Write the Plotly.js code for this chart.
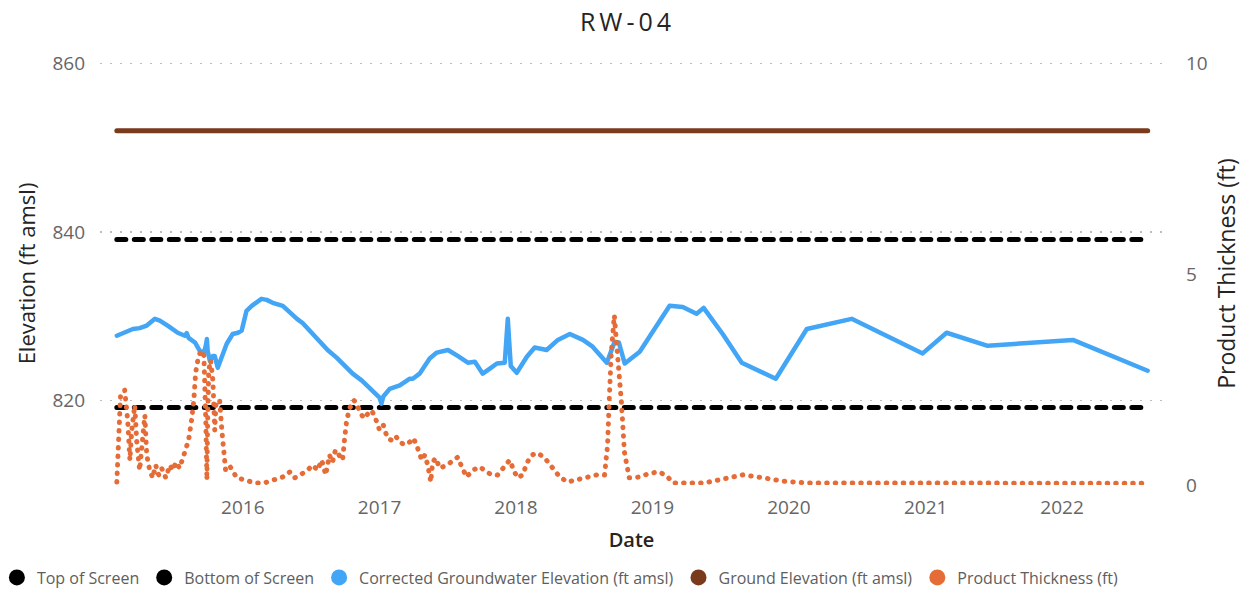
<!DOCTYPE html>
<html>
<head>
<meta charset="utf-8">
<script src="https://cdn.plot.ly/plotly-3.0.1.min.js"></script>
<style>html,body{margin:0;padding:0;background:#fff;}#chart{width:1255px;height:593px;}</style>
</head>
<body>
<div id="chart"></div>
<script>
// ---- Data ----
const gwDates = ["2015-01-29","2015-02-11","2015-02-27","2015-03-13","2015-03-31","2015-04-19","2015-05-11","2015-05-24","2015-06-14","2015-07-11","2015-07-30","2015-08-04","2015-08-09","2015-08-26","2015-09-08","2015-09-19","2015-09-24","2015-09-27","2015-09-29","2015-10-05","2015-10-13","2015-10-18","2015-10-26","2015-11-06","2015-11-19","2015-12-05","2015-12-19","2015-12-29","2016-01-11","2016-01-25","2016-02-07","2016-02-20","2016-03-05","2016-03-21","2016-04-17","2016-05-06","2016-05-25","2016-06-09","2016-06-28","2016-07-25","2016-08-15","2016-09-08","2016-09-29","2016-10-21","2016-11-14","2016-12-05","2016-12-21","2017-01-01","2017-01-06","2017-01-11","2017-01-28","2017-02-24","2017-03-23","2017-03-31","2017-04-18","2017-04-26","2017-05-15","2017-06-03","2017-07-03","2017-07-29","2017-08-25","2017-09-13","2017-10-04","2017-10-23","2017-11-11","2017-12-02","2017-12-10","2017-12-18","2018-01-03","2018-01-30","2018-02-20","2018-03-24","2018-04-23","2018-05-25","2018-06-29","2018-07-25","2018-09-01","2018-09-22","2018-10-03","2018-10-19","2018-11-28","2019-02-16","2019-03-23","2019-04-29","2019-05-18","2019-07-08","2019-08-28","2019-11-27","2020-02-18","2020-06-17","2020-12-24","2021-02-26","2021-06-16","2022-01-30","2022-08-18"];
const gwElev = [827.7,827.9,828.2,828.5,828.6,828.9,829.7,829.5,828.9,828.05,827.7,828.0,827.45,826.9,825.9,825.7,826.5,827.3,825.9,824.7,825.3,825.3,823.9,825.2,826.75,827.9,828.05,828.3,830.65,831.24,831.6,832.07,831.95,831.6,831.24,830.4,829.7,829.2,828.3,826.9,826.0,825.1,824.1,823.2,822.4,821.5,820.8,820.35,819.65,820.5,821.4,821.8,822.6,822.6,823.2,823.8,825.0,825.7,826.0,825.3,824.5,824.6,823.2,823.8,824.4,824.5,829.7,824.1,823.3,825.2,826.3,826.0,827.2,827.9,827.2,826.4,824.5,827.0,826.9,824.4,825.8,831.24,831.1,830.3,831.0,827.9,824.5,822.6,828.5,829.7,825.6,828.05,826.5,827.2,823.55];

const ptDates = ["2015-01-29","2015-02-08","2015-02-19","2015-02-27","2015-03-05","2015-03-10","2015-03-18","2015-03-23","2015-03-31","2015-04-08","2015-04-14","2015-04-19","2015-04-27","2015-05-05","2015-05-13","2015-05-21","2015-05-29","2015-06-09","2015-06-20","2015-06-28","2015-07-06","2015-07-16","2015-07-24","2015-08-01","2015-08-09","2015-08-17","2015-08-23","2015-08-28","2015-09-05","2015-09-13","2015-09-19","2015-09-24","2015-09-27","2015-09-29","2015-10-02","2015-10-07","2015-10-13","2015-10-18","2015-10-21","2015-10-26","2015-10-31","2015-11-06","2015-11-11","2015-11-16","2015-11-27","2015-12-05","2015-12-16","2016-01-06","2016-02-02","2016-02-28","2016-03-26","2016-04-17","2016-05-06","2016-05-19","2016-06-06","2016-06-22","2016-07-06","2016-07-19","2016-07-30","2016-08-10","2016-08-20","2016-08-28","2016-09-05","2016-09-16","2016-09-24","2016-09-29","2016-10-05","2016-10-13","2016-10-24","2016-10-29","2016-11-09","2016-11-19","2016-11-30","2016-12-11","2016-12-21","2017-01-01","2017-01-11","2017-01-22","2017-02-02","2017-02-13","2017-02-24","2017-03-09","2017-03-23","2017-04-02","2017-04-13","2017-04-24","2017-05-02","2017-05-10","2017-05-18","2017-05-23","2017-05-31","2017-06-11","2017-06-30","2017-07-13","2017-07-29","2017-08-09","2017-08-22","2017-09-07","2017-09-26","2017-10-15","2017-10-28","2017-11-13","2017-12-02","2017-12-15","2017-12-28","2018-01-05","2018-01-19","2018-01-30","2018-02-12","2018-02-28","2018-03-19","2018-04-07","2018-04-28","2018-05-19","2018-06-15","2018-07-09","2018-08-05","2018-08-26","2018-09-03","2018-09-08","2018-09-13","2018-09-21","2018-09-29","2018-10-10","2018-10-18","2018-10-31","2018-11-28","2018-12-25","2019-01-20","2019-02-11","2019-02-24","2019-04-11","2019-05-21","2019-07-08","2019-08-31","2019-10-24","2019-12-17","2020-02-18","2020-06-12","2021-02-21","2021-09-15","2022-08-18"];
const ptThick = [0.07,2.13,2.25,1.54,0.59,1.30,1.89,1.06,0.35,0.95,1.65,0.71,0.35,0.17,0.47,0.24,0.40,0.17,0.47,0.35,0.54,0.40,0.64,0.87,1.06,1.54,2.01,2.67,3.07,3.19,3.07,1.54,0.12,1.54,2.72,2.96,2.48,1.30,1.89,2.01,2.01,1.30,0.59,0.35,0.45,0.31,0.17,0.12,0.05,0.05,0.12,0.19,0.31,0.17,0.26,0.35,0.47,0.35,0.59,0.24,0.71,0.54,0.83,0.71,0.59,1.06,1.54,1.82,2.01,1.96,1.77,1.58,1.68,1.77,1.58,1.30,1.42,1.11,1.06,1.16,1.02,0.95,1.02,1.11,0.87,0.59,0.71,0.47,0.07,0.54,0.64,0.40,0.47,0.54,0.66,0.43,0.19,0.35,0.43,0.31,0.24,0.24,0.43,0.59,0.31,0.17,0.24,0.52,0.71,0.76,0.64,0.43,0.19,0.07,0.12,0.19,0.24,0.24,0.95,2.13,3.14,4.02,3.24,1.96,0.78,0.17,0.19,0.28,0.31,0.19,0.05,0.05,0.05,0.14,0.24,0.17,0.09,0.05,0.05,0.04,0.05,0.04];

const screenDates = ["2015-01-29","2022-08-18"];
const topOfScreen = [839.1, 839.1];
const bottomOfScreen = [819.2, 819.2];
const groundElev = [852.0, 852.0];

const yearTickVals = ["2016-01-01","2017-01-01","2018-01-01","2019-01-01","2020-01-01","2021-01-01","2022-01-01"];
const yearTickText = ["2016","2017","2018","2019","2020","2021","2022"];

const seriesNames = ["Top of Screen","Bottom of Screen","Corrected Groundwater Elevation (ft amsl)","Ground Elevation (ft amsl)","Product Thickness (ft)"];
const seriesColors = ["#000000","#000000","#42A5F5","#7A3A1C","#E66C37"];

// ---- Traces ----
const traces = [
  {x: screenDates, y: topOfScreen, mode: "lines", name: seriesNames[0], showlegend: false, hoverinfo: "skip",
   line: {color: seriesColors[0], width: 5, dash: "9px,8.5px"}},
  {x: screenDates, y: bottomOfScreen, mode: "lines", name: seriesNames[1], showlegend: false, hoverinfo: "skip",
   line: {color: seriesColors[1], width: 5, dash: "9px,8.5px"}},
  {x: screenDates, y: groundElev, mode: "lines", name: seriesNames[3], showlegend: false,
   line: {color: seriesColors[3], width: 5}},
  {x: gwDates, y: gwElev, mode: "lines", name: seriesNames[2], showlegend: false,
   line: {color: seriesColors[2], width: 4.5}},
  {x: ptDates, y: ptThick, mode: "lines", name: seriesNames[4], showlegend: false, yaxis: "y2",
   line: {color: seriesColors[4], width: 5, dash: "0.5px,8px"}}
];
// legend entries (circle markers as in the reference)
seriesNames.forEach(function(n, i){
  traces.push({x: [null], y: [null], mode: "markers", name: n, showlegend: true, hoverinfo: "skip",
    marker: {color: seriesColors[i], size: 16, symbol: "circle"}});
});

const FONT = "Open Sans, Noto Sans, sans-serif";
const layout = {
  width: 1255, height: 593,
  margin: {l: 100, r: 92, t: 62, b: 108, pad: 0, autoexpand: false},
  paper_bgcolor: "#ffffff", plot_bgcolor: "#ffffff",
  font: {family: FONT, color: "#605E5C"},
  title: {text: "RW-04", x: 0.5, xref: "container", y: 1 - 22/593, yref: "container", yanchor: "middle",
          font: {family: FONT, size: 25, color: "#252423"}},
  xaxis: {type: "date", range: ["2014-12-15","2022-09-28"], tickmode: "array", tickvals: yearTickVals, ticktext: yearTickText,
          showgrid: false, zeroline: false, showline: false, ticks: "", ticklabelstandoff: 9, automargin: false,
          tickfont: {family: FONT, size: 19, color: "#666666"},
          title: {text: "Date", standoff: 13, font: {family: FONT, size: 20, color: "#252423", weight: 600}}},
  yaxis: {range: [810, 860.15], dtick: 20, tick0: 0, showgrid: true, gridcolor: "#bdbdbd", gridwidth: 1.5, griddash: "1.5px,8.5px",
          zeroline: false, showline: false, ticks: "", ticklabelstandoff: 14, automargin: false,
          tickfont: {family: FONT, size: 19, color: "#666666"},
          title: {text: "Elevation (ft amsl)", standoff: 10, font: {family: FONT, size: 22, color: "#252423"}}},
  yaxis2: {range: [0, 10.03], dtick: 5, tick0: 0, overlaying: "y", side: "right", showgrid: false, zeroline: false,
           showline: false, ticks: "", ticklabelstandoff: 22, automargin: false,
           tickfont: {family: FONT, size: 19, color: "#666666"},
           title: {text: "Product Thickness (ft)", standoff: 12, font: {family: FONT, size: 23, color: "#252423"}}},
  legend: {orientation: "h", x: -0.097, xanchor: "left", y: -0.1785, yanchor: "top",
           font: {family: FONT, size: 16, color: "#605E5C"}, itemwidth: 30, tracegroupgap: 0,
           bgcolor: "rgba(0,0,0,0)"},
  showlegend: true
};

Plotly.newPlot("chart", traces, layout, {displayModeBar: false, staticPlot: true}).then(function(){
  document.querySelectorAll(".scatterlayer .trace path.js-line").forEach(function(p){
    p.style.strokeLinecap = "round";
    p.style.strokeLinejoin = "round";
  });
  document.querySelectorAll(".gtitle").forEach(function(t){ t.style.letterSpacing = "4px"; });
});
</script>
</body>
</html>
